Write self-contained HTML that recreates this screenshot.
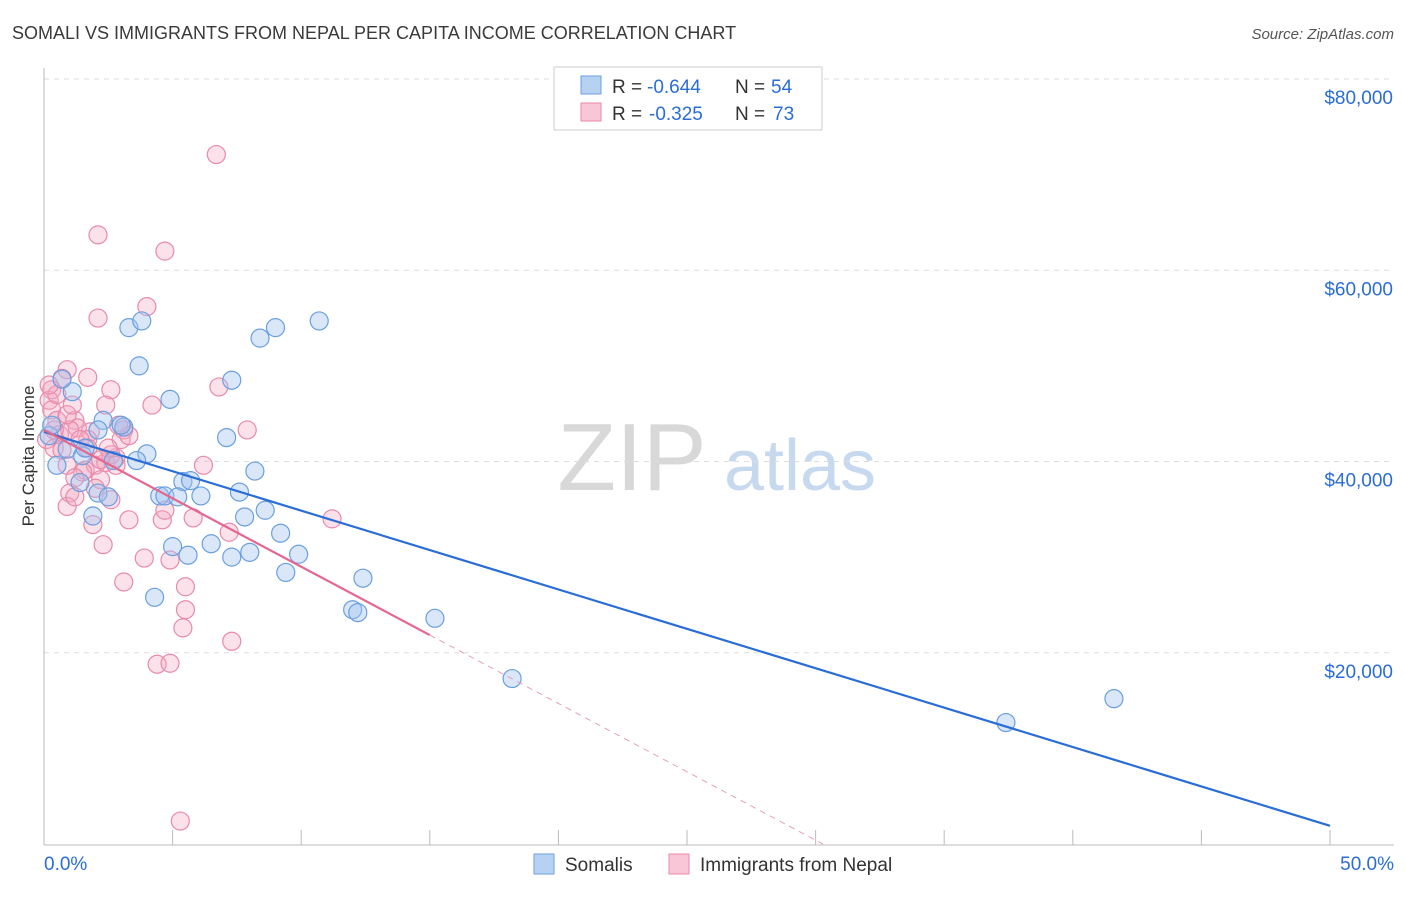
<!DOCTYPE html>
<html><head><meta charset="utf-8"><style>
body{margin:0;background:#fff;font-family:"Liberation Sans",sans-serif;}
svg text{font-family:"Liberation Sans",sans-serif;}
</style></head><body>
<svg id="chart" width="1406" height="892" xmlns="http://www.w3.org/2000/svg">
<text x="12" y="39" font-size="18" fill="#3a3a3a">SOMALI VS IMMIGRANTS FROM NEPAL PER CAPITA INCOME CORRELATION CHART</text>
<text x="1394" y="39" font-size="15" fill="#555" font-style="italic" text-anchor="end">Source: ZipAtlas.com</text>
<g>
<text x="632" y="490" font-size="96" font-family="Liberation Serif" fill="#d8d8d8" text-anchor="middle">ZIP</text>
<text x="800" y="490" font-size="72" fill="#c6d9ef" text-anchor="middle">atlas</text>
</g>
<g id="grid"></g>
<g id="axes"></g>
<g id="pts"></g>
<g id="trends"></g>
<text transform="translate(34,456) rotate(-90)" font-size="17" fill="#333" text-anchor="middle">Per Capita Income</text>
<g>
<rect x="554" y="67" width="268" height="63" fill="#fff" stroke="#ccc"/>
<rect x="581" y="76" width="20" height="18" fill="#b7d1f3" stroke="#6a9fe0"/>
<text x="612" y="93" font-size="19" fill="#333">R =</text>
<text x="647" y="93" font-size="19" fill="#2a6dd6">-0.644</text>
<text x="735" y="93" font-size="19" fill="#333">N =</text>
<text x="771" y="93" font-size="19" fill="#2a6dd6">54</text>
<rect x="581" y="103" width="20" height="18" fill="#f8c6d6" stroke="#e888a8"/>
<text x="612" y="120" font-size="19" fill="#333">R =</text>
<text x="649" y="120" font-size="19" fill="#2a6dd6">-0.325</text>
<text x="735" y="120" font-size="19" fill="#333">N =</text>
<text x="773" y="120" font-size="19" fill="#2a6dd6">73</text>
</g>
<g>
<rect x="534" y="854" width="20" height="20" fill="#b7d1f3" stroke="#6a9fe0"/>
<text x="565" y="871" font-size="19" fill="#333">Somalis</text>
<rect x="669" y="854" width="20" height="20" fill="#f8c6d6" stroke="#e888a8"/>
<text x="700" y="871" font-size="19" fill="#333">Immigrants from Nepal</text>
</g>
</svg>
<script>
const yTicks=[20000,40000,60000,80000];
const yTickLabels=["$20,000","$40,000","$60,000","$80,000"];
const xTicks=[0,5,10,15,20,25,30,35,40,45,50];
const xEndLabels=["0.0%","50.0%"];
const somaliX=[3.3,3.8,3.7,8.4,9.0,10.7,7.3,4.9,1.1,0.7,7.1,2.3,3.1,2.1,4.0,3.6,2.7,0.5,0.9,1.5,8.2,5.4,5.7,7.6,4.5,4.7,5.2,6.1,2.1,2.5,8.6,7.8,1.9,9.2,5.0,5.6,6.5,7.3,8.0,9.9,9.4,12.4,4.3,12.0,12.2,15.2,18.2,37.4,41.6,0.2,0.3,1.6,3.0,1.4];
const somaliY=[54.0,54.7,50.0,52.9,54.0,54.7,48.5,46.5,47.3,48.6,42.5,44.3,43.6,43.3,40.8,40.1,40.1,39.6,41.3,40.6,39.0,37.9,38.0,36.8,36.4,36.4,36.3,36.4,36.7,36.3,34.9,34.2,34.3,32.5,31.1,30.2,31.4,30.0,30.5,30.3,28.4,27.8,25.8,24.5,24.2,23.6,17.3,12.7,15.2,42.7,43.8,41.4,43.8,37.8];
const nepalX=[6.7,2.1,4.7,2.1,4.0,0.9,0.7,1.7,2.6,6.8,4.2,7.9,6.2,0.3,0.2,0.3,0.5,1.2,1.3,0.6,0.1,0.9,1.6,2.0,2.4,2.8,3.1,3.0,1.8,2.4,1.0,0.9,1.2,1.9,2.6,2.3,3.3,4.6,4.7,5.8,7.2,11.2,3.1,3.9,4.9,5.5,5.5,5.4,4.4,4.9,7.3,5.3,1.7,2.2,0.5,0.2,1.5,1.0,2.6,2.8,1.4,2.5,0.4,2.0,0.9,1.1,3.3,1.7,0.7,1.2,2.2,2.9,0.4];
const nepalY=[72.1,63.7,62.0,55.0,56.2,49.6,48.7,48.8,47.5,47.8,45.9,43.3,39.6,47.5,46.4,45.4,44.3,44.3,43.5,42.8,42.3,39.6,39.1,39.6,39.9,40.4,43.3,42.3,43.1,45.9,36.7,35.3,36.3,33.4,36.0,31.3,33.9,33.9,34.9,34.1,32.6,34.0,27.4,29.9,29.7,26.9,24.5,22.6,18.8,18.9,21.2,2.4,42.3,38.1,47.0,48.0,38.9,43.3,40.7,39.6,42.3,41.4,41.4,37.2,44.9,45.9,42.7,41.4,41.2,38.3,40.2,43.8,43.3];
const somaliTrend=[43.1,-0.824];
const nepalTrend=[43.3,-1.43];
const NS='http://www.w3.org/2000/svg';
const X=v=>44+v*25.72;
const Y=v=>844-v*9.5625;
function mk(t,a,p){const e=document.createElementNS(NS,t);for(const k in a)e.setAttribute(k,a[k]);p.appendChild(e);return e;}
const grid=document.getElementById('grid'),axes=document.getElementById('axes'),pts=document.getElementById('pts'),tr=document.getElementById('trends');
yTicks.forEach((t,i)=>{
 const l=mk('line',{x1:44,x2:1394,y1:Y(t/1000),y2:Y(t/1000),stroke:'#ddd','stroke-dasharray':'5,5'},grid);
 
 
 const tx=mk('text',{x:1393,y:Y(t/1000)+25,'font-size':19,fill:'#2a6dd6','text-anchor':'end'},axes);
 tx.textContent=yTickLabels[i];
 
 
});
const ax=mk('line',{x1:44,x2:44,y1:68,y2:845,stroke:'#bbb'},axes);


const bx=mk('line',{x1:44,x2:1394,y1:845,y2:845,stroke:'#bbb'},axes);


xTicks.forEach(t=>{
 const l=mk('line',{x1:X(t),x2:X(t),y1:830,y2:845,stroke:'#bbb'},axes);
 
 
});
[[0,'start',44],[50,'end',1394]].forEach((d,i)=>{
 const tx=mk('text',{x:d[2],y:870,'font-size':19,fill:'#2a6dd6','text-anchor':d[1]},axes);
 tx.textContent=xEndLabels[i];
 
 
});
nepalX.forEach((x,i)=>{
 const c=mk('circle',{cx:X(x),cy:Y(nepalY[i]),r:9,fill:'rgba(244,170,196,0.35)',stroke:'#e98aab','stroke-width':1.2},pts);
 
 
});
somaliX.forEach((x,i)=>{
 const c=mk('circle',{cx:X(x),cy:Y(somaliY[i]),r:9,fill:'rgba(160,195,240,0.4)',stroke:'#6a9fe0','stroke-width':1.2},pts);
 
 
});
const sl=mk('line',{x1:X(0),y1:Y(somaliTrend[0]),x2:X(50),y2:Y(somaliTrend[0]+somaliTrend[1]*50),stroke:'#2a6dd6','stroke-width':2.2},tr);


const nx0=-nepalTrend[0]/nepalTrend[1];
const nl=mk('line',{x1:X(0),y1:Y(nepalTrend[0]),x2:X(15),y2:Y(nepalTrend[0]+nepalTrend[1]*15),stroke:'#e4678f','stroke-width':2.2},tr);


const nd=mk('line',{x1:X(15),y1:Y(nepalTrend[0]+nepalTrend[1]*15),x2:X(nx0),y2:Y(0),stroke:'#e4a0b8','stroke-width':1,'stroke-dasharray':'6,5'},tr);


</script>
</body></html>
